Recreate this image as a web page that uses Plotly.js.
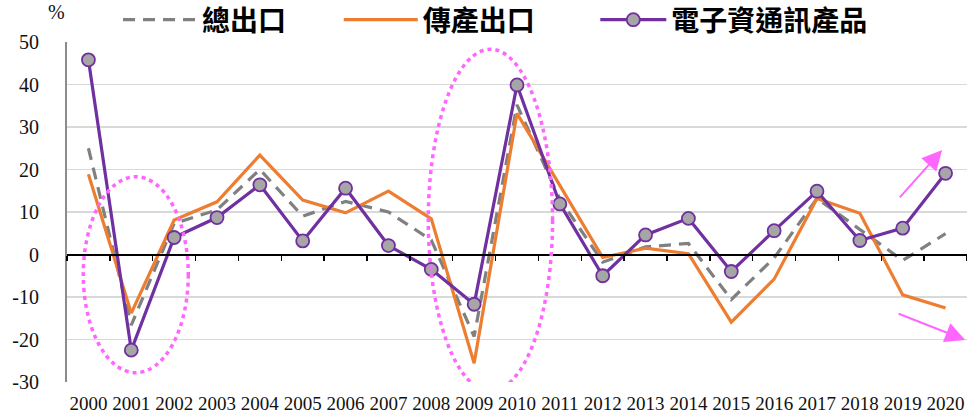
<!DOCTYPE html>
<html>
<head>
<meta charset="utf-8">
<script src="https://cdn.plot.ly/plotly-3.0.1.min.js"></script>
<style>
html,body{margin:0;padding:0;background:#fff;}
#chart{width:967px;height:417px;}
</style>
</head>
<body>
<div id="chart"></div>
<script>
const years = ['2000','2001','2002','2003','2004','2005','2006','2007','2008','2009','2010','2011','2012','2013','2014','2015','2016','2017','2018','2019','2020'];
const totalExport = [25.0, -16.6, 7.3, 10.5, 20.0, 9.0, 12.5, 10.0, 3.4, -19.3, 35.2, 13.0, -1.8, 1.8, 2.6, -10.6, -0.8, 13.2, 5.9, -1.4, 4.9];
const traditionalExport = [18.9, -13.8, 8.1, 12.4, 23.4, 12.8, 9.8, 14.9, 8.4, -25.6, 33.2, 16.4, -0.7, 1.5, 0.2, -15.9, -5.8, 13.2, 9.7, -9.5, -12.6];
const ictProducts = [45.8, -22.5, 4.0, 8.7, 16.4, 3.2, 15.6, 2.1, -3.5, -11.7, 39.9, 11.9, -5.0, 4.6, 8.5, -4.0, 5.6, 14.9, 3.3, 6.2, 19.1];
const seriesNames = ['總出口', '傳產出口', '電子資通訊產品'];
const yTicks = [-30, -20, -10, 0, 10, 20, 30, 40, 50];

const serif = 'Liberation Serif, Times New Roman, serif';
const cjk = 'Noto Sans CJK TC, Noto Sans CJK SC, sans-serif';

const traces = [
  {
    x: years, y: totalExport, name: seriesNames[0], type: 'scatter', mode: 'lines',
    line: {color: '#808080', width: 3.2, dash: '12px,8px'}, legend: 'legend'
  },
  {
    x: years, y: traditionalExport, name: seriesNames[1], type: 'scatter', mode: 'lines',
    line: {color: '#ED7D31', width: 3.2}, legend: 'legend2'
  },
  {
    x: years, y: ictProducts, name: seriesNames[2], type: 'scatter', mode: 'lines+markers',
    line: {color: '#7030A0', width: 3.2},
    marker: {symbol: 'circle', size: 13, color: '#A6A6A6', line: {color: '#7030A0', width: 1.8}},
    legend: 'legend3'
  },
  {
    x: years, y: years.map(() => null), xaxis: 'x2', type: 'scatter', mode: 'lines',
    showlegend: false, hoverinfo: 'skip'
  }
];

const legendBase = (x, iw) => ({
  orientation: 'h', x: x, y: 1.0647, xanchor: 'left', yanchor: 'middle',
  font: {family: cjk, size: 28, color: '#000', weight: 'bold'},
  itemwidth: iw, bgcolor: 'rgba(0,0,0,0)', borderwidth: 0
});

const pink = '#FF66FF';
const layout = {
  width: 967, height: 417,
  margin: {l: 67, r: 0, t: 42, b: 35, autoexpand: false},
  paper_bgcolor: '#fff', plot_bgcolor: '#fff',
  showlegend: true,
  legend: legendBase(0.0567, 74),
  legend2: legendBase(0.302, 74),
  legend3: legendBase(0.587, 66),
  xaxis: {
    type: 'category', range: [-0.5, 20.5], showgrid: false, showline: false, zeroline: false,
    ticks: '', tickfont: {family: serif, size: 19, color: '#111'}, ticklabelstandoff: 8,
    fixedrange: true, automargin: false
  },
  xaxis2: {
    type: 'category', overlaying: 'x', matches: 'x', anchor: 'free', position: 0.375,
    showline: true, linecolor: '#000', linewidth: 2, showgrid: false, zeroline: false,
    ticks: 'outside', tickson: 'boundaries', ticklen: 5, tickwidth: 1.5, tickcolor: '#000',
    showticklabels: false, automargin: false
  },
  yaxis: {
    range: [-30, 50], tickvals: yTicks, ticktext: yTicks.map(String),
    showgrid: true, gridcolor: '#D9D9D9', gridwidth: 1.5,
    showline: true, linecolor: '#8C8C8C', linewidth: 2, zeroline: false,
    ticks: 'outside', ticklen: 0, ticklabelstandoff: 22,
    tickfont: {family: serif, size: 20, color: '#111'}, automargin: false
  },
  shapes: [
    {type: 'circle', xref: 'x', yref: 'y', x0: -0.12, x1: 2.33, y0: -27.8, y1: 18.3,
     line: {color: pink, width: 3.5, dash: '4px,4px'}, layer: 'above'},
    {type: 'circle', xref: 'x', yref: 'y', x0: 7.93, x1: 10.83, y0: -32.1, y1: 48.3,
     line: {color: pink, width: 3.5, dash: '4px,4px'}, layer: 'above'}
  ],
  annotations: [
    {text: '%', xref: 'paper', yref: 'paper', x: -0.0122, y: 1.088, xanchor: 'center', yanchor: 'middle',
     showarrow: false, font: {family: serif, size: 20, color: '#111'}},
    {text: '', xref: 'x', yref: 'y', axref: 'x', ayref: 'y', x: 19.92, y: 24.6, ax: 18.9, ay: 13.1,
     showarrow: true, arrowhead: 2, arrowsize: 2, arrowwidth: 2, arrowcolor: pink},
    {text: '', xref: 'x', yref: 'y', axref: 'x', ayref: 'y', x: 20.46, y: -20.1, ax: 18.87, ay: -13.8,
     showarrow: true, arrowhead: 2, arrowsize: 2, arrowwidth: 2, arrowcolor: pink}
  ]
};

Plotly.newPlot('chart', traces, layout, {displayModeBar: false, staticPlot: true});
</script>
</body>
</html>
